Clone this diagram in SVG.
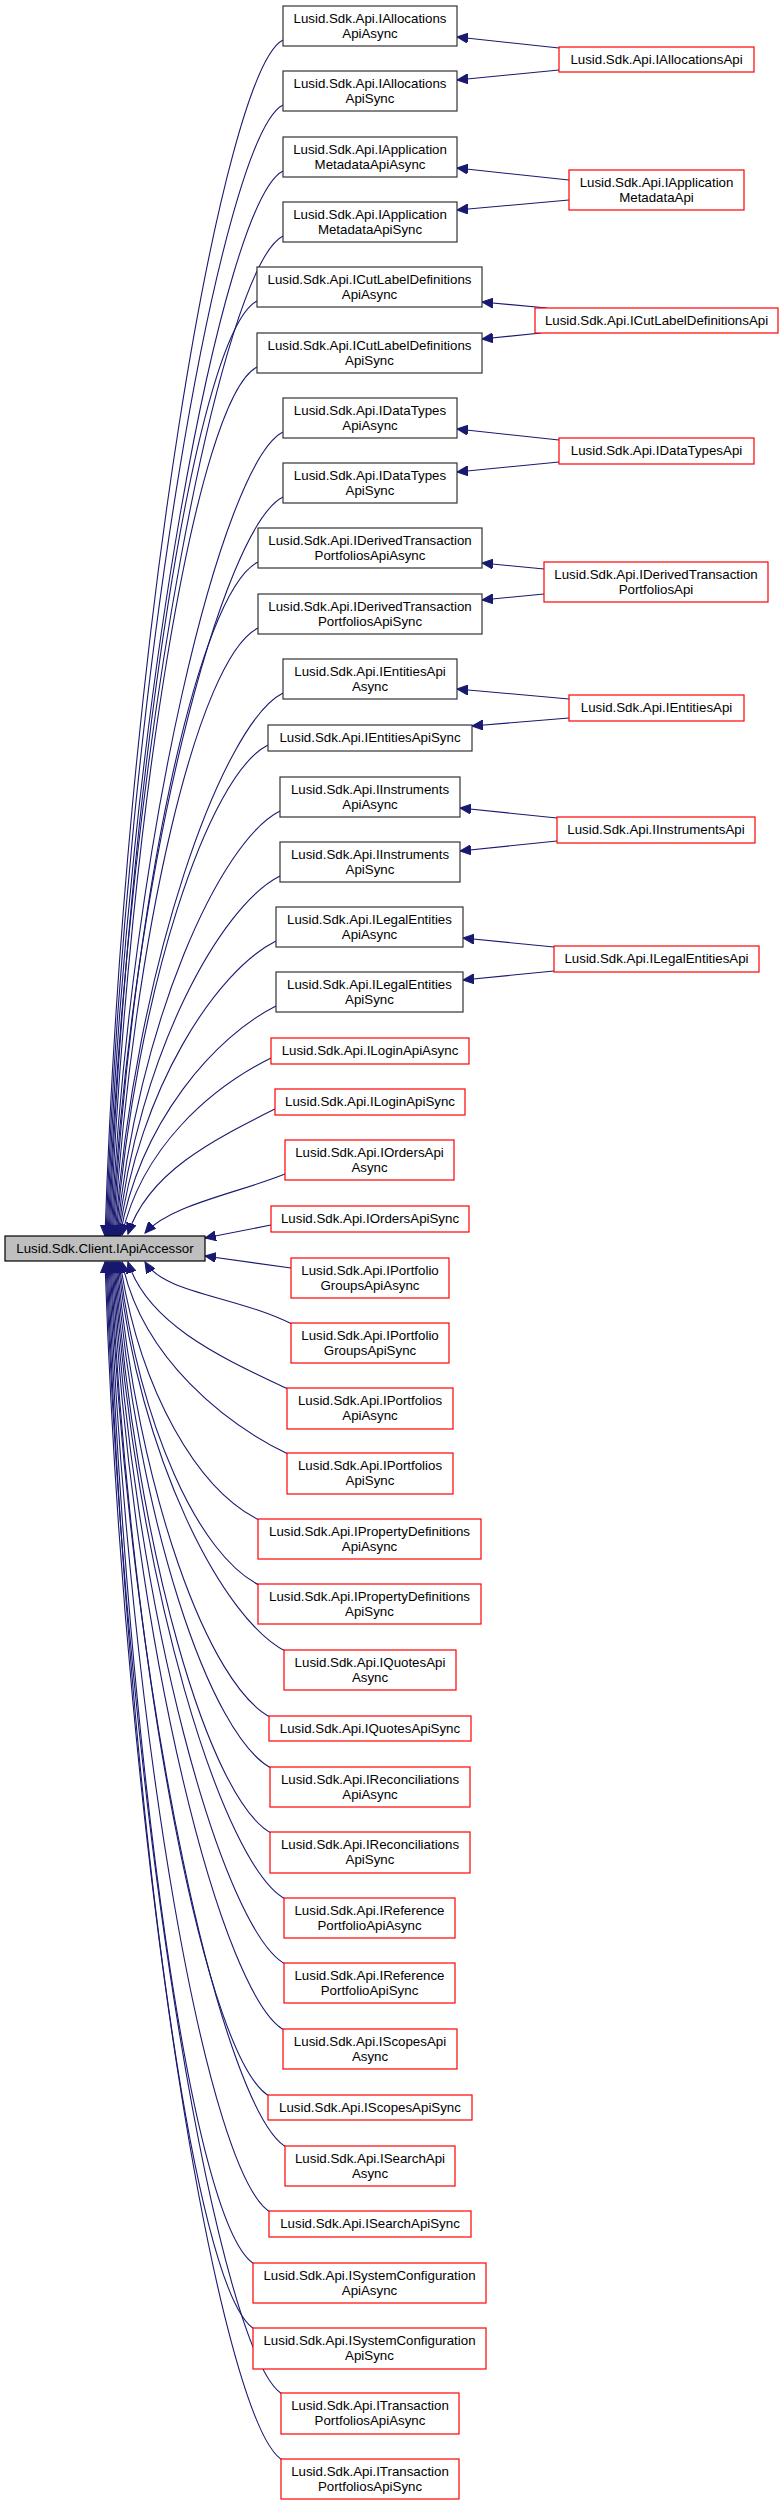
<svg xmlns="http://www.w3.org/2000/svg" width="784" height="2505" viewBox="0 0 784 2505">
<style>
rect{stroke-width:1.2}
.b{fill:#fff;stroke:#333}
.r{fill:#fff;stroke:#f00}
.root{fill:#bfbfbf;stroke:#000}
text{font-family:"Liberation Sans",Arial,sans-serif;font-size:13.3px;text-anchor:middle;fill:#000}
.e path,.e line{fill:none;stroke:#191970;stroke-width:1.1;marker-end:url(#ah)}
</style>
<defs><marker id="ah" markerUnits="userSpaceOnUse" markerWidth="12" markerHeight="10" refX="11" refY="5" orient="auto"><path d="M0,0 L11,5 L0,10 Z" fill="#191970" stroke="#191970"/></marker></defs>
<rect width="784" height="2505" fill="#fff"/>
<g class="e">
<path d="M283,40 C223,70 125,638 105,1236"/>
<path d="M283,105 C223,135 126,671 106,1236"/>
<path d="M283,171 C223,201 127,704 107,1236"/>
<path d="M283,236 C223,266 128,736 108,1236"/>
<path d="M257,301 C197,331 129,769 109,1236"/>
<path d="M257,367 C197,397 130,802 110,1236"/>
<path d="M283,432 C223,462 131,834 111,1236"/>
<path d="M283,497 C223,527 132,867 112,1236"/>
<path d="M258,562 C198,592 133,899 113,1236"/>
<path d="M258,628 C198,658 134,932 114,1236"/>
<path d="M283,693 C223,723 135,965 115,1236"/>
<path d="M268,745 C208,775 136,991 116,1236"/>
<path d="M280,811 C220,841 137,1024 117,1236"/>
<path d="M280,876 C220,906 138,1056 118,1236"/>
<path d="M276,941 C216,971 139,1089 119,1236"/>
<path d="M276,1006 C216,1036 140,1121 120,1236"/>
<path d="M271,1058 C211,1088 142,1147 122,1235"/>
<path d="M275,1109 C215,1139 148,1172 128,1234"/>
<path d="M285,1174 C235,1194 170,1205 145,1233"/>
<line x1="271" y1="1225" x2="205" y2="1238"/>
<line x1="291" y1="1268" x2="205" y2="1256"/>
<path d="M294,1325 C234,1295 165,1294 145,1262"/>
<path d="M290,1390 C227,1360 148,1326 128,1262"/>
<path d="M290,1455 C227,1425 142,1359 122,1262"/>
<path d="M261,1521 C198,1491 140,1392 120,1262"/>
<path d="M261,1586 C198,1556 139,1424 119,1262"/>
<path d="M287,1652 C224,1622 138,1457 118,1262"/>
<path d="M272,1718 C209,1688 137,1490 117,1262"/>
<path d="M273,1769 C210,1739 136,1516 116,1262"/>
<path d="M273,1834 C210,1804 135,1548 115,1262"/>
<path d="M287,1900 C224,1870 134,1581 114,1262"/>
<path d="M287,1965 C224,1935 133,1614 113,1262"/>
<path d="M286,2031 C223,2001 132,1647 112,1262"/>
<path d="M271,2097 C208,2067 131,1680 111,1262"/>
<path d="M288,2148 C225,2118 130,1705 110,1262"/>
<path d="M272,2213 C209,2183 129,1738 109,1262"/>
<path d="M256,2265 C193,2235 128,1764 108,1262"/>
<path d="M256,2330 C193,2300 127,1796 107,1262"/>
<path d="M284,2395 C221,2365 126,1829 106,1262"/>
<path d="M284,2461 C221,2431 125,1862 105,1262"/>
<line x1="559" y1="48" x2="457" y2="37"/>
<line x1="559" y1="70" x2="457" y2="80"/>
<line x1="569" y1="180" x2="457" y2="168"/>
<line x1="569" y1="200" x2="457" y2="210"/>
<line x1="547" y1="308" x2="482" y2="302"/>
<line x1="541" y1="333" x2="482" y2="339"/>
<line x1="559" y1="440" x2="457" y2="429"/>
<line x1="559" y1="462" x2="457" y2="472"/>
<line x1="544" y1="569" x2="482" y2="563"/>
<line x1="544" y1="594" x2="482" y2="600"/>
<line x1="569" y1="699" x2="457" y2="689"/>
<line x1="569" y1="718" x2="472" y2="726"/>
<line x1="557" y1="818" x2="460" y2="808"/>
<line x1="557" y1="841" x2="460" y2="851"/>
<line x1="554" y1="947" x2="463" y2="938"/>
<line x1="554" y1="971" x2="463" y2="980"/>
</g>
<g id="root"><rect class="root" x="5" y="1236" width="200" height="25"/><text x="105" y="1253">Lusid.Sdk.Client.IApiAccessor</text></g>
<g id="n1"><rect class="b" x="283" y="6" width="174" height="40"/><text x="370" y="22.5">Lusid.Sdk.Api.IAllocations</text><text x="370" y="37.5">ApiAsync</text></g>
<g id="n2"><rect class="b" x="283" y="71" width="174" height="40"/><text x="370" y="87.5">Lusid.Sdk.Api.IAllocations</text><text x="370" y="102.5">ApiSync</text></g>
<g id="n3"><rect class="b" x="283" y="137" width="174" height="40"/><text x="370" y="153.5">Lusid.Sdk.Api.IApplication</text><text x="370" y="168.5">MetadataApiAsync</text></g>
<g id="n4"><rect class="b" x="283" y="202" width="174" height="40"/><text x="370" y="218.5">Lusid.Sdk.Api.IApplication</text><text x="370" y="233.5">MetadataApiSync</text></g>
<g id="n5"><rect class="b" x="257" y="267" width="225" height="40"/><text x="369.5" y="283.5">Lusid.Sdk.Api.ICutLabelDefinitions</text><text x="369.5" y="298.5">ApiAsync</text></g>
<g id="n6"><rect class="b" x="257" y="333" width="225" height="40"/><text x="369.5" y="349.5">Lusid.Sdk.Api.ICutLabelDefinitions</text><text x="369.5" y="364.5">ApiSync</text></g>
<g id="n7"><rect class="b" x="283" y="398" width="174" height="40"/><text x="370" y="414.5">Lusid.Sdk.Api.IDataTypes</text><text x="370" y="429.5">ApiAsync</text></g>
<g id="n8"><rect class="b" x="283" y="463" width="174" height="40"/><text x="370" y="479.5">Lusid.Sdk.Api.IDataTypes</text><text x="370" y="494.5">ApiSync</text></g>
<g id="n9"><rect class="b" x="258" y="528" width="224" height="40"/><text x="370" y="544.5">Lusid.Sdk.Api.IDerivedTransaction</text><text x="370" y="559.5">PortfoliosApiAsync</text></g>
<g id="n10"><rect class="b" x="258" y="594" width="224" height="40"/><text x="370" y="610.5">Lusid.Sdk.Api.IDerivedTransaction</text><text x="370" y="625.5">PortfoliosApiSync</text></g>
<g id="n11"><rect class="b" x="283" y="659" width="174" height="40"/><text x="370" y="675.5">Lusid.Sdk.Api.IEntitiesApi</text><text x="370" y="690.5">Async</text></g>
<g id="n12"><rect class="b" x="268" y="725" width="204" height="26"/><text x="370" y="741.5">Lusid.Sdk.Api.IEntitiesApiSync</text></g>
<g id="n13"><rect class="b" x="280" y="777" width="180" height="40"/><text x="370" y="793.5">Lusid.Sdk.Api.IInstruments</text><text x="370" y="808.5">ApiAsync</text></g>
<g id="n14"><rect class="b" x="280" y="842" width="180" height="40"/><text x="370" y="858.5">Lusid.Sdk.Api.IInstruments</text><text x="370" y="873.5">ApiSync</text></g>
<g id="n15"><rect class="b" x="276" y="907" width="187" height="40"/><text x="369.5" y="923.5">Lusid.Sdk.Api.ILegalEntities</text><text x="369.5" y="938.5">ApiAsync</text></g>
<g id="n16"><rect class="b" x="276" y="972" width="187" height="40"/><text x="369.5" y="988.5">Lusid.Sdk.Api.ILegalEntities</text><text x="369.5" y="1003.5">ApiSync</text></g>
<g id="n17"><rect class="r" x="271" y="1038" width="198" height="26"/><text x="370" y="1054.5">Lusid.Sdk.Api.ILoginApiAsync</text></g>
<g id="n18"><rect class="r" x="275" y="1089" width="190" height="26"/><text x="370" y="1105.5">Lusid.Sdk.Api.ILoginApiSync</text></g>
<g id="n19"><rect class="r" x="285" y="1140" width="169" height="40"/><text x="369.5" y="1156.5">Lusid.Sdk.Api.IOrdersApi</text><text x="369.5" y="1171.5">Async</text></g>
<g id="n20"><rect class="r" x="271" y="1206" width="198" height="26"/><text x="370" y="1222.5">Lusid.Sdk.Api.IOrdersApiSync</text></g>
<g id="n21"><rect class="r" x="291" y="1258" width="158" height="40"/><text x="370" y="1274.5">Lusid.Sdk.Api.IPortfolio</text><text x="370" y="1289.5">GroupsApiAsync</text></g>
<g id="n22"><rect class="r" x="291" y="1323" width="158" height="40"/><text x="370" y="1339.5">Lusid.Sdk.Api.IPortfolio</text><text x="370" y="1354.5">GroupsApiSync</text></g>
<g id="n23"><rect class="r" x="287" y="1388" width="166" height="41"/><text x="370" y="1404.5">Lusid.Sdk.Api.IPortfolios</text><text x="370" y="1419.5">ApiAsync</text></g>
<g id="n24"><rect class="r" x="287" y="1453" width="166" height="41"/><text x="370" y="1469.5">Lusid.Sdk.Api.IPortfolios</text><text x="370" y="1484.5">ApiSync</text></g>
<g id="n25"><rect class="r" x="258" y="1519" width="223" height="40"/><text x="369.5" y="1535.5">Lusid.Sdk.Api.IPropertyDefinitions</text><text x="369.5" y="1550.5">ApiAsync</text></g>
<g id="n26"><rect class="r" x="258" y="1584" width="223" height="40"/><text x="369.5" y="1600.5">Lusid.Sdk.Api.IPropertyDefinitions</text><text x="369.5" y="1615.5">ApiSync</text></g>
<g id="n27"><rect class="r" x="284" y="1650" width="172" height="40"/><text x="370" y="1666.5">Lusid.Sdk.Api.IQuotesApi</text><text x="370" y="1681.5">Async</text></g>
<g id="n28"><rect class="r" x="269" y="1716" width="202" height="25"/><text x="370" y="1732.5">Lusid.Sdk.Api.IQuotesApiSync</text></g>
<g id="n29"><rect class="r" x="270" y="1767" width="200" height="40"/><text x="370" y="1783.5">Lusid.Sdk.Api.IReconciliations</text><text x="370" y="1798.5">ApiAsync</text></g>
<g id="n30"><rect class="r" x="270" y="1832" width="200" height="41"/><text x="370" y="1848.5">Lusid.Sdk.Api.IReconciliations</text><text x="370" y="1863.5">ApiSync</text></g>
<g id="n31"><rect class="r" x="284" y="1898" width="171" height="40"/><text x="369.5" y="1914.5">Lusid.Sdk.Api.IReference</text><text x="369.5" y="1929.5">PortfolioApiAsync</text></g>
<g id="n32"><rect class="r" x="284" y="1963" width="171" height="40"/><text x="369.5" y="1979.5">Lusid.Sdk.Api.IReference</text><text x="369.5" y="1994.5">PortfolioApiSync</text></g>
<g id="n33"><rect class="r" x="283" y="2029" width="174" height="40"/><text x="370" y="2045.5">Lusid.Sdk.Api.IScopesApi</text><text x="370" y="2060.5">Async</text></g>
<g id="n34"><rect class="r" x="268" y="2095" width="204" height="25"/><text x="370" y="2111.5">Lusid.Sdk.Api.IScopesApiSync</text></g>
<g id="n35"><rect class="r" x="285" y="2146" width="170" height="40"/><text x="370" y="2162.5">Lusid.Sdk.Api.ISearchApi</text><text x="370" y="2177.5">Async</text></g>
<g id="n36"><rect class="r" x="269" y="2211" width="202" height="26"/><text x="370" y="2227.5">Lusid.Sdk.Api.ISearchApiSync</text></g>
<g id="n37"><rect class="r" x="253" y="2263" width="233" height="40"/><text x="369.5" y="2279.5">Lusid.Sdk.Api.ISystemConfiguration</text><text x="369.5" y="2294.5">ApiAsync</text></g>
<g id="n38"><rect class="r" x="253" y="2328" width="233" height="41"/><text x="369.5" y="2344.5">Lusid.Sdk.Api.ISystemConfiguration</text><text x="369.5" y="2359.5">ApiSync</text></g>
<g id="n39"><rect class="r" x="281" y="2393" width="178" height="41"/><text x="370" y="2409.5">Lusid.Sdk.Api.ITransaction</text><text x="370" y="2424.5">PortfoliosApiAsync</text></g>
<g id="n40"><rect class="r" x="281" y="2459" width="178" height="40"/><text x="370" y="2475.5">Lusid.Sdk.Api.ITransaction</text><text x="370" y="2490.5">PortfoliosApiSync</text></g>
<g id="m1"><rect class="r" x="559" y="47" width="195" height="25"/><text x="656.5" y="63.5">Lusid.Sdk.Api.IAllocationsApi</text></g>
<g id="m2"><rect class="r" x="569" y="170" width="175" height="40"/><text x="656.5" y="186.5">Lusid.Sdk.Api.IApplication</text><text x="656.5" y="201.5">MetadataApi</text></g>
<g id="m3"><rect class="r" x="535" y="308" width="243" height="25"/><text x="656.5" y="324.5">Lusid.Sdk.Api.ICutLabelDefinitionsApi</text></g>
<g id="m4"><rect class="r" x="559" y="438" width="195" height="26"/><text x="656.5" y="454.5">Lusid.Sdk.Api.IDataTypesApi</text></g>
<g id="m5"><rect class="r" x="544" y="562" width="224" height="40"/><text x="656" y="578.5">Lusid.Sdk.Api.IDerivedTransaction</text><text x="656" y="593.5">PortfoliosApi</text></g>
<g id="m6"><rect class="r" x="569" y="695" width="175" height="26"/><text x="656.5" y="711.5">Lusid.Sdk.Api.IEntitiesApi</text></g>
<g id="m7"><rect class="r" x="557" y="817" width="198" height="26"/><text x="656" y="833.5">Lusid.Sdk.Api.IInstrumentsApi</text></g>
<g id="m8"><rect class="r" x="554" y="946" width="205" height="26"/><text x="656.5" y="962.5">Lusid.Sdk.Api.ILegalEntitiesApi</text></g>
</svg>
